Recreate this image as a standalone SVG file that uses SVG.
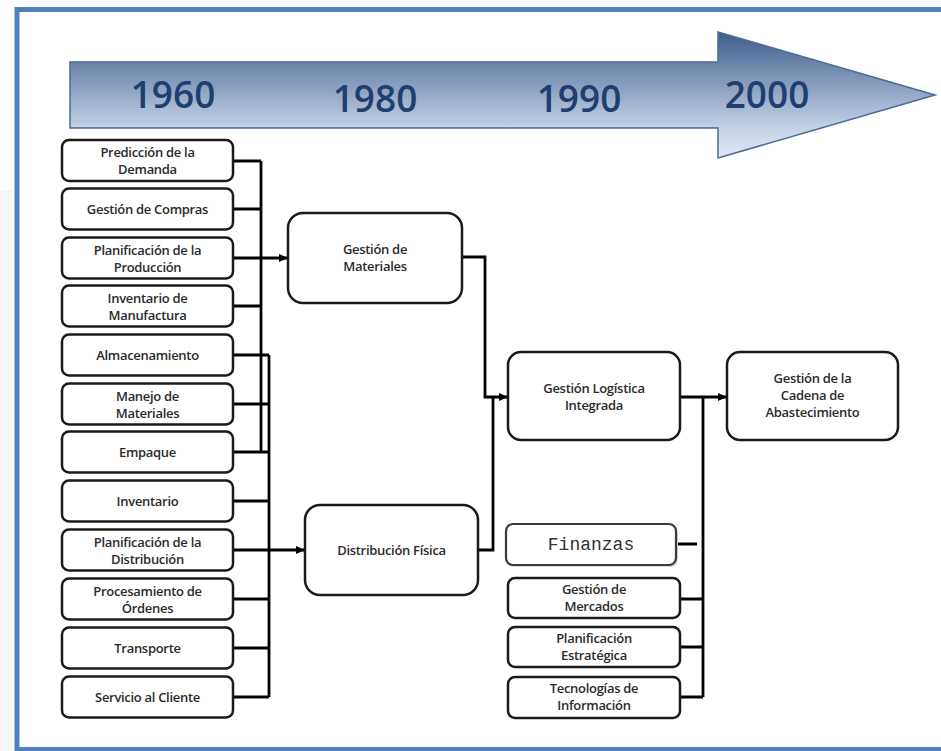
<svg xmlns="http://www.w3.org/2000/svg" width="941" height="751" viewBox="0 0 941 751">
<defs>
<linearGradient id="ag" gradientUnits="userSpaceOnUse" x1="0" y1="32" x2="0" y2="158">
<stop offset="0" stop-color="#3e5d8c"/>
<stop offset="0.25" stop-color="#6a84aa"/>
<stop offset="0.75" stop-color="#c2d0e4"/>
<stop offset="1" stop-color="#e2e9f3"/>
</linearGradient>
<marker id="ah" markerUnits="userSpaceOnUse" markerWidth="9" markerHeight="8" refX="8" refY="4" orient="auto">
<path d="M0,0 L9,4 L0,8 z" fill="#000"/>
</marker>
</defs>
<style>
.box{fill:#fff;stroke:#1a1a1a;stroke-width:2.5}
.t{font-family:"Open Sans","Liberation Sans",sans-serif;font-size:13px;font-weight:600;fill:#2b2b2b;text-anchor:middle;letter-spacing:-0.3px}
.yr{font-family:"Open Sans","Liberation Sans",sans-serif;font-size:37px;font-weight:600;fill:#1e3f6f;text-anchor:middle}
.c{fill:none;stroke:#000;stroke-width:2.8}
</style>
<rect x="0" y="0" width="941" height="751" fill="#fff"/>
<rect x="0" y="190" width="12" height="561" fill="#e3e3de" opacity="0.35"/>
<rect x="17" y="9.5" width="930" height="740" fill="none" stroke="#5080be" stroke-width="5"/>

<g id="timeline">
<path d="M70,62 H718 V32 L935,95 L718,158 V128 H70 Z" fill="url(#ag)" stroke="#4a6a98" stroke-width="1.5"/>
<text class="yr" x="173" y="108">1960</text>
<text class="yr" x="375" y="112">1980</text>
<text class="yr" x="579" y="112">1990</text>
<text class="yr" x="767" y="108">2000</text>
</g>

<g id="connectors">
<path class="c" d="M233,161 H261 M233,209 H261 M233,306 H261 M261,161 V452"/>
<path class="c" d="M233,355 H269 M233,404 H269 M233,452 H269 M269,355 V697"/>
<path class="c" d="M233,501 H269 M233,599 H269 M233,648 H269 M233,697 H269"/>
<path class="c" d="M233,258 H287" marker-end="url(#ah)"/>
<path class="c" d="M233,550 H304" marker-end="url(#ah)"/>
<path class="c" d="M462,257 H485 V397 H507" marker-end="url(#ah)"/>
<path class="c" d="M478,550 H493 V397"/>
<path class="c" d="M680,397 H726" marker-end="url(#ah)"/>
<path class="c" d="M703,397 V697 M680,599 H703 M680,647 H703 M680,697 H703 M678,544 H697"/>
</g>

<g id="n1"><rect class="box" x="62" y="140" width="171" height="41" rx="7"/><text class="t" x="147.5" y="157">Predicción de la</text><text class="t" x="147.5" y="174">Demanda</text></g>
<g id="n2"><rect class="box" x="62" y="188.5" width="171" height="41" rx="7"/><text class="t" x="147.5" y="213.5">Gestión de Compras</text></g>
<g id="n3"><rect class="box" x="62" y="237.5" width="171" height="41" rx="7"/><text class="t" x="147.5" y="254.5">Planificación de la</text><text class="t" x="147.5" y="271.5">Producción</text></g>
<g id="n4"><rect class="box" x="62" y="285.5" width="171" height="41" rx="7"/><text class="t" x="147.5" y="302.5">Inventario de</text><text class="t" x="147.5" y="319.5">Manufactura</text></g>
<g id="n5"><rect class="box" x="62" y="334.5" width="171" height="41" rx="7"/><text class="t" x="147.5" y="359.5">Almacenamiento</text></g>
<g id="n6"><rect class="box" x="62" y="383.5" width="171" height="41" rx="7"/><text class="t" x="147.5" y="400.5">Manejo de</text><text class="t" x="147.5" y="417.5">Materiales</text></g>
<g id="n7"><rect class="box" x="62" y="431.5" width="171" height="41" rx="7"/><text class="t" x="147.5" y="456.5">Empaque</text></g>
<g id="n8"><rect class="box" x="62" y="480.5" width="171" height="41" rx="7"/><text class="t" x="147.5" y="505.5">Inventario</text></g>
<g id="n9"><rect class="box" x="62" y="529.5" width="171" height="41" rx="7"/><text class="t" x="147.5" y="546.5">Planificación de la</text><text class="t" x="147.5" y="563.5">Distribución</text></g>
<g id="n10"><rect class="box" x="62" y="578.5" width="171" height="41" rx="7"/><text class="t" x="147.5" y="595.5">Procesamiento de</text><text class="t" x="147.5" y="612.5">Órdenes</text></g>
<g id="n11"><rect class="box" x="62" y="627.5" width="171" height="41" rx="7"/><text class="t" x="147.5" y="652.5">Transporte</text></g>
<g id="n12"><rect class="box" x="62" y="676.5" width="171" height="41" rx="7"/><text class="t" x="147.5" y="701.5">Servicio al Cliente</text></g>

<g id="gm"><rect class="box" x="288" y="213" width="174" height="90" rx="15"/><text class="t" x="375" y="254">Gestión de</text><text class="t" x="375" y="271">Materiales</text></g>
<g id="df"><rect class="box" x="305" y="505" width="173" height="90" rx="15"/><text class="t" x="391.5" y="555">Distribución Física</text></g>
<g id="gl"><rect class="box" x="508" y="352" width="172" height="88" rx="13"/><text class="t" x="594" y="393">Gestión Logística</text><text class="t" x="594" y="410">Integrada</text></g>
<g id="gca"><rect class="box" x="727" y="352" width="171" height="88" rx="13"/><text class="t" x="812.5" y="383">Gestión de la</text><text class="t" x="812.5" y="400">Cadena de</text><text class="t" x="812.5" y="417">Abastecimiento</text></g>

<g id="fin"><rect x="508" y="526" width="170" height="41" rx="7" fill="#bbb" opacity="0.5"/><rect x="506" y="524" width="170" height="41" rx="7" fill="#fff" stroke="#3a3a3a" stroke-width="2.2"/><text x="591" y="550" font-family="'Liberation Mono','Courier New',monospace" font-size="18" fill="#333" text-anchor="middle">Finanzas</text></g>
<g id="mer"><rect class="box" x="508" y="578" width="172" height="40" rx="7"/><text class="t" x="594" y="594">Gestión de</text><text class="t" x="594" y="611">Mercados</text></g>
<g id="pe"><rect class="box" x="508" y="627" width="172" height="40" rx="7"/><text class="t" x="594" y="643">Planificación</text><text class="t" x="594" y="660">Estratégica</text></g>
<g id="ti"><rect class="box" x="508" y="677" width="172" height="41" rx="7"/><text class="t" x="594" y="693">Tecnologías de</text><text class="t" x="594" y="710">Información</text></g>
</svg>
